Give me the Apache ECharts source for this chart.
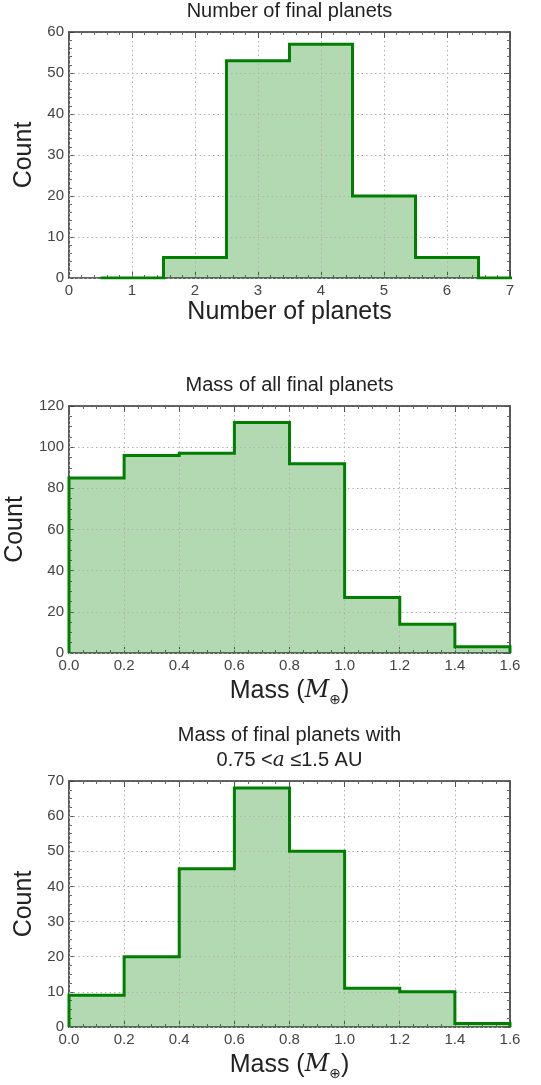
<!DOCTYPE html>
<html>
<head>
<meta charset="utf-8">
<script src="https://cdn.jsdelivr.net/npm/echarts@6/dist/echarts.min.js"></script>
<style>
  html, body { margin: 0; padding: 0; background: #fff; }
  #main { width: 541px; height: 1085px; }
</style>
</head>
<body>
<div id="main"></div>
<script>
// panel 1: number of final planets per system (bins centred on integers)
const planetCountBins = [1, 2, 3, 4, 5, 6, 7];
const planetCountValues = [0, 5, 53, 57, 20, 5, 0];

// panels 2 and 3: mass histograms, bin edges in Earth masses
const massEdges = [0.0, 0.2, 0.4, 0.6, 0.8, 1.0, 1.2, 1.4, 1.6];
const massAllCounts = [85, 96, 97, 112, 92, 27, 14, 3];
const massBandCounts = [9, 20, 45, 68, 50, 11, 10, 1];

const GREEN = "#007f00";
const FONT = "'Liberation Sans', Arial, Helvetica, sans-serif";

// turn bin edges + counts into an outline for a step line
function stepPoints(edges, counts) {
  const pts = [[edges[0], 0]];
  counts.forEach((c, i) => pts.push([edges[i], c]));
  pts.push([edges[edges.length - 1], counts[counts.length - 1]]);
  pts.push([edges[edges.length - 1], 0]);
  return pts;
}

const planetEdges = planetCountBins.map((b) => b - 0.5);
planetEdges.push(planetCountBins[planetCountBins.length - 1] + 0.5);

const massName = "Mass ({m|M}{s|⊕})";
const massRich = {
  m: { fontFamily: "'DejaVu Serif', serif", fontStyle: "italic", fontSize: 24, color: "#222", verticalAlign: "middle", lineHeight: 32 },
  s: { fontFamily: "'DejaVu Sans', sans-serif", fontSize: 14, color: "#222", verticalAlign: "bottom", lineHeight: 32 },
};

const panels = [
  {
    top: 32, height: 246,
    xMin: 0, xMax: 7, xInt: 1, xMinor: 5, xFmt: (v) => String(Math.round(v)),
    yMax: 60, yInt: 10, yMinor: 5, yGap: 31,
    title: "Number of final planets", titleRich: {},
    xName: "Number of planets", xRich: {},
    data: stepPoints(planetEdges, planetCountValues),
  },
  {
    top: 406, height: 247,
    xMin: 0, xMax: 1.6, xInt: 0.2, xMinor: 4, xFmt: (v) => v.toFixed(1),
    yMax: 120, yInt: 20, yMinor: 4, yGap: 38,
    title: "Mass of all final planets", titleRich: {},
    xName: massName, xRich: massRich,
    data: stepPoints(massEdges, massAllCounts),
  },
  {
    top: 781, height: 246,
    xMin: 0, xMax: 1.6, xInt: 0.2, xMinor: 4, xFmt: (v) => v.toFixed(1),
    yMax: 70, yInt: 10, yMinor: 4, yGap: 31,
    title: "Mass of final planets with\n0.75 <{i|a} ≤1.5 AU",
    titleRich: { i: { fontFamily: "'DejaVu Serif', serif", fontStyle: "italic", fontSize: 20, color: "#222" } },
    xName: massName, xRich: massRich,
    data: stepPoints(massEdges, massBandCounts),
  },
];

const grid = [], xAxis = [], yAxis = [], series = [];

panels.forEach((p, k) => {
  grid.push({ left: 69, right: 31, top: p.top, height: p.height, outerBoundsMode: "none", containLabel: false });

  const frameLine = { show: true, onZero: false, lineStyle: { color: "#333", width: 1.6 } };
  const majorTick = { show: true, inside: true, length: 6, lineStyle: { color: "#555", width: 1 } };
  const dotted = { show: true, lineStyle: { color: "#b0b0b0", type: [1.5, 3], width: 1 } };

  // bottom axis
  xAxis.push({
    gridIndex: k, type: "value", position: "bottom",
    min: p.xMin, max: p.xMax, interval: p.xInt,
    axisLine: frameLine, axisTick: majorTick,
    minorTick: { show: true, splitNumber: p.xMinor, length: 3, lineStyle: { color: "#666" } },
    splitLine: { show: false },
    axisLabel: { color: "#444", fontSize: 15, fontFamily: FONT, margin: 5, formatter: p.xFmt },
    name: p.xName, nameLocation: "middle", nameGap: 22,
    nameTextStyle: { color: "#222", fontSize: 25, fontFamily: FONT, rich: p.xRich },
  });
  // top axis: frame, ticks, dotted grid over the fill, and the panel title
  xAxis.push({
    gridIndex: k, type: "value", position: "top", z: 3,
    min: p.xMin, max: p.xMax, interval: p.xInt,
    axisLine: frameLine, axisTick: majorTick,
    minorTick: { show: true, splitNumber: p.xMinor, length: 3, lineStyle: { color: "#666" } },
    splitLine: dotted,
    axisLabel: { show: false },
    name: p.title, nameLocation: "middle", nameGap: 8,
    nameTextStyle: { color: "#222", fontSize: 20, fontFamily: FONT, lineHeight: 25, rich: p.titleRich },
  });
  // left axis
  yAxis.push({
    gridIndex: k, type: "value", position: "left",
    min: 0, max: p.yMax, interval: p.yInt,
    axisLine: frameLine, axisTick: majorTick,
    minorTick: { show: true, splitNumber: p.yMinor, length: 3, lineStyle: { color: "#666" } },
    splitLine: { show: false },
    axisLabel: { color: "#444", fontSize: 15, fontFamily: FONT, margin: 5 },
    name: "Count", nameLocation: "middle", nameGap: p.yGap,
    nameTextStyle: { color: "#222", fontSize: 25, fontFamily: FONT },
  });
  // right axis
  yAxis.push({
    gridIndex: k, type: "value", position: "right", z: 3,
    min: 0, max: p.yMax, interval: p.yInt,
    axisLine: frameLine, axisTick: majorTick,
    minorTick: { show: true, splitNumber: p.yMinor, length: 3, lineStyle: { color: "#666" } },
    splitLine: dotted,
    axisLabel: { show: false },
  });

  // filled area (under the grid lines)
  series.push({
    type: "line", xAxisIndex: 2 * k, yAxisIndex: 2 * k, step: "end",
    data: p.data, symbol: "none", z: 1, silent: true,
    lineStyle: { width: 0 },
    areaStyle: { color: "rgba(0,128,0,0.3)", opacity: 1 },
  });
  // outline
  series.push({
    type: "line", xAxisIndex: 2 * k, yAxisIndex: 2 * k, step: "end",
    data: p.data, symbol: "none", z: 5,
    lineStyle: { color: GREEN, width: 3, join: "miter" },
  });
});

const chart = echarts.init(document.getElementById("main"), null, { renderer: "canvas" });
chart.setOption({
  animation: false,
  backgroundColor: "#fff",
  grid, xAxis, yAxis, series,
});
</script>
</body>
</html>
